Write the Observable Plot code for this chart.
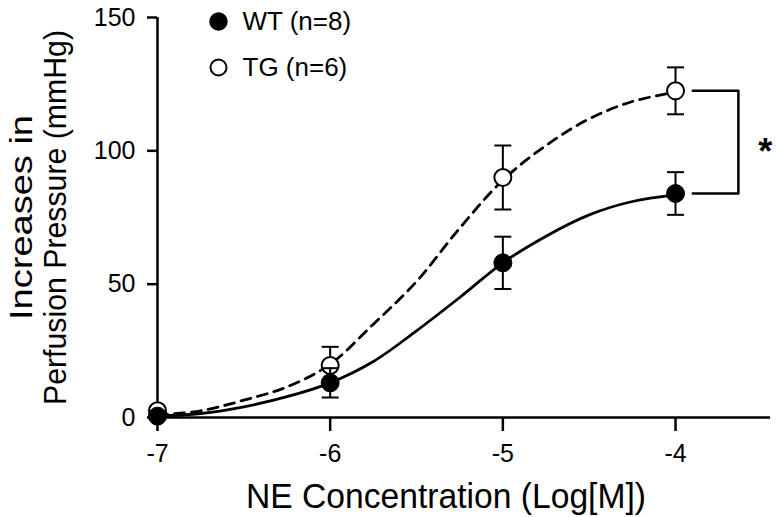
<!DOCTYPE html>
<html>
<head>
<meta charset="utf-8">
<script src="https://cdn.jsdelivr.net/npm/d3@7"></script>
<script src="https://cdn.jsdelivr.net/npm/@observablehq/plot@0.6"></script>
<style>
  html, body { margin: 0; padding: 0; background: #fff; }
  #chart svg { display: block; }
</style>
</head>
<body>
<div id="chart"></div>
<script>
// ---- data ----
const logConc = [-7, -6, -5, -4];
const wtMean = [0.5, 13, 58, 84];
const wtSem  = [1, 5.5, 9.8, 8];
const tgMean = [2.5, 19.5, 90, 122.5];
const tgSem  = [1.5, 7, 12, 8.8];

// fitted curves
const curveX   = [-7, -6.75, -6.5, -6.25, -6, -5.75, -5.5, -5.25, -5, -4.75, -4.5, -4.25, -4];
const wtCurve  = [0.5, 1.5, 4, 7.8, 13, 21, 32.5, 45, 58, 68, 76, 81, 83.5];
const tgCurve  = [1, 2.5, 6.5, 11.5, 20, 35, 51, 71, 89, 102, 112, 118.5, 122];

const xTicks = [-7, -6, -5, -4];
const yTicks = [0, 50, 100, 150];

const groups = ["WT (n=8)", "TG (n=6)"];
const yTitle = ["Increases in", "Perfusion Pressure (mmHg)"];
const xTitle = "NE Concentration (Log[M])";
const bracketX = [-3.9, -3.636];
const starX = -3.48;

// ---- tables ----
const wt = logConc.map((x, i) => ({x, y: wtMean[i], lo: wtMean[i] - wtSem[i], hi: wtMean[i] + wtSem[i]}));
const tg = logConc.map((x, i) => ({x, y: tgMean[i], lo: tgMean[i] - tgSem[i], hi: tgMean[i] + tgSem[i]}));
const wtLine = curveX.map((x, i) => ({x, y: wtCurve[i]}));
const tgLine = curveX.map((x, i) => ({x, y: tgCurve[i]}));
const bracket = [
  {x: bracketX[0], y: tgMean[3]},
  {x: bracketX[1], y: tgMean[3]},
  {x: bracketX[1], y: wtMean[3]},
  {x: bracketX[0], y: wtMean[3]}
];

// horizontal-line symbol for error bar caps
const capSymbol = {
  draw(ctx, size) {
    const r = Math.sqrt(size / Math.PI);
    ctx.moveTo(-r, 0);
    ctx.lineTo(r, 0);
  }
};

const font = "'Liberation Sans', Arial, Helvetica, sans-serif";

const errMarks = (data) => [
  Plot.ruleX(data, {x: "x", y1: "lo", y2: "hi", stroke: "black", strokeWidth: 2}),
  Plot.dot(data, {x: "x", y: "lo", symbol: capSymbol, r: 8.5, stroke: "black", strokeWidth: 2, fill: "none"}),
  Plot.dot(data, {x: "x", y: "hi", symbol: capSymbol, r: 8.5, stroke: "black", strokeWidth: 2, fill: "none"})
];

const chart = Plot.plot({
  width: 776,
  height: 517,
  marginLeft: 157,
  marginRight: 6,
  marginTop: 17,
  marginBottom: 100,
  style: {fontFamily: font, background: "white", color: "black"},
  x: {domain: [-7, -3.45], label: null},
  y: {domain: [0, 150], label: null},
  marks: [
    // axes
    Plot.axisY(yTicks, {tickSize: 10, tickPadding: 12, fontSize: 25, strokeWidth: 2.5, label: null, tickFormat: d => String(d)}),
    Plot.axisX(xTicks, {tickSize: 14, tickPadding: 13, fontSize: 25, strokeWidth: 2.5, label: null, tickFormat: d => String(d)}),
    Plot.ruleX([xTicks[0]], {y1: yTicks[0], y2: yTicks[yTicks.length - 1], stroke: "black", strokeWidth: 2.5}),
    Plot.ruleY([0], {stroke: "black", strokeWidth: 2.5}),
    // axis titles
    Plot.text([yTitle[0]], {
      text: d => d, frameAnchor: "left", dx: -136, rotate: -90, fontSize: 32,
      textAnchor: "middle", lineAnchor: "middle", fill: "black"
    }),
    Plot.text([yTitle[1]], {
      text: d => d, frameAnchor: "left", dx: -101, rotate: -90, fontSize: 31,
      textAnchor: "middle", lineAnchor: "middle", fill: "black"
    }),
    Plot.text([xTitle], {
      text: d => d, frameAnchor: "bottom", dx: -18, dy: 90, fontSize: 35,
      textAnchor: "middle", lineAnchor: "bottom", fill: "black"
    }),
    // TG curve + data
    Plot.line(tgLine, {x: "x", y: "y", curve: "catmull-rom", stroke: "black", strokeWidth: 2.8, strokeDasharray: "10,7"}),
    ...errMarks(tg),
    Plot.dot(tg, {x: "x", y: "y", r: 8.5, stroke: "black", strokeWidth: 2, fill: "white"}),
    // WT curve + data
    Plot.line(wtLine, {x: "x", y: "y", curve: "catmull-rom", stroke: "black", strokeWidth: 2.8}),
    ...errMarks(wt),
    Plot.dot(wt, {x: "x", y: "y", r: 9, fill: "black", stroke: "black", strokeWidth: 1}),
    // significance bracket
    Plot.line(bracket, {x: "x", y: "y", stroke: "black", strokeWidth: 2.5, curve: "linear"}),
    Plot.text(["*"], {x: starX, y: (tgMean[3] + wtMean[3]) / 2, fontSize: 36, fontWeight: "bold", lineAnchor: "middle", dy: 10, fill: "black"}),
    // legend
    Plot.dot([groups[0]], {frameAnchor: "top-left", dx: 61, dy: 4, r: 8.5, fill: "black", stroke: "black"}),
    Plot.dot([groups[1]], {frameAnchor: "top-left", dx: 61, dy: 50, r: 8, fill: "white", stroke: "black", strokeWidth: 2}),
    Plot.text([groups[0]], {frameAnchor: "top-left", dx: 85, dy: 4, text: d => d, fontSize: 26, textAnchor: "start", lineAnchor: "middle", fill: "black"}),
    Plot.text([groups[1]], {frameAnchor: "top-left", dx: 85, dy: 50, text: d => d, fontSize: 26, textAnchor: "start", lineAnchor: "middle", fill: "black"})
  ]
});

// fit the title texts to the lengths they occupy in the reference
const fitText = {[yTitle[0]]: 205, [yTitle[1]]: 375, [xTitle]: 400};
d3.select(chart).selectAll("text").each(function () {
  const t = this.textContent;
  if (fitText[t]) {
    d3.select(this).attr("textLength", fitText[t]).attr("lengthAdjust", "spacingAndGlyphs");
  }
});

document.getElementById("chart").appendChild(chart);
</script>
</body>
</html>
